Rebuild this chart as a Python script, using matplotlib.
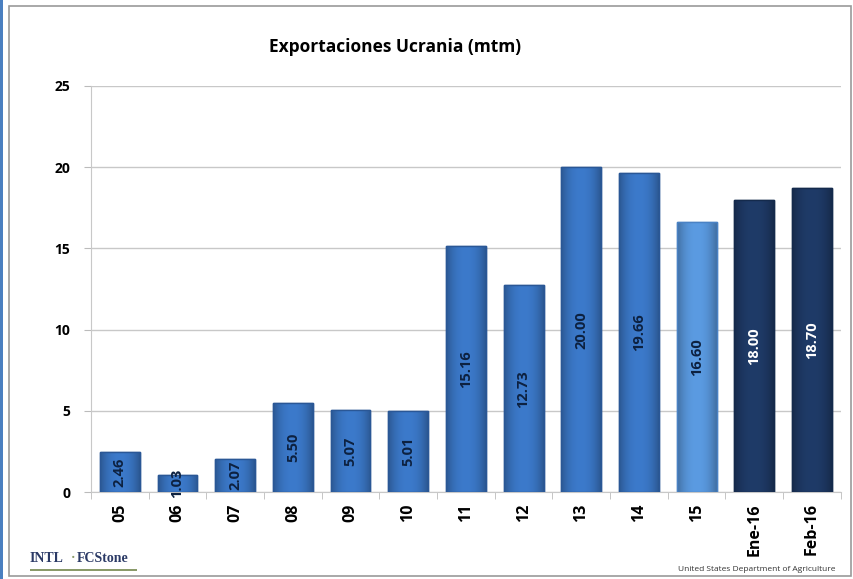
import matplotlib
matplotlib.use("Agg")
import matplotlib.pyplot as plt
from matplotlib.patches import Rectangle
from matplotlib.colors import to_rgb
import numpy as np

categories = ["05", "06", "07", "08", "09", "10", "11", "12", "13", "14", "15", "Ene-16", "Feb-16"]
values = [2.46, 1.03, 2.07, 5.50, 5.07, 5.01, 15.16, 12.73, 20.00, 19.66, 16.60, 18.00, 18.70]
bar_colors = ["#3c7acb"] * 10 + ["#5b9be2", "#1f3b68", "#1f3b68"]
edge_colors = ["#2a5796"] * 10 + ["#4a82c4", "#142a4c", "#142a4c"]
label_colors = ["#0d2140"] * 11 + ["white", "white"]
yticks = [0, 5, 10, 15, 20, 25]

plt.rcParams['font.family'] = ['Open Sans', 'DejaVu Sans']

fig = plt.figure(figsize=(8.54, 5.79), dpi=100)
fig.patch.set_facecolor("white")

# frame
fig.add_artist(Rectangle((0.0, 0.0), 0.004, 1.0, transform=fig.transFigure, color="#4a7fc0", lw=0))
fig.add_artist(Rectangle((0.011, 0.006), 0.986, 0.983, transform=fig.transFigure,
                         fill=False, edgecolor="#9a9a9a", lw=1.2))

ax = fig.add_axes([0.1066, 0.150, 0.878, 0.7015])
x = list(range(len(categories)))
bars = ax.bar(x, values, width=0.69, color=bar_colors, edgecolor=edge_colors, linewidth=1.0, zorder=3)

# horizontal gradient shading inside each bar
prof = np.linspace(-1, 1, 64)
shade = 1.0 - 0.28 * np.abs(prof) ** 2.2
for b, c in zip(bars, bar_colors):
    rgb = np.array(to_rgb(c))
    img = np.clip(shade[None, :, None] * rgb[None, None, :], 0, 1)
    x0, w, h = b.get_x(), b.get_width(), b.get_height()
    im = ax.imshow(img, extent=[x0, x0 + w, 0, h], aspect="auto", zorder=3.1,
                   interpolation="bilinear")
    im.set_clip_path(b)
    ax.add_patch(Rectangle((x0, 0), w, h, fill=False, edgecolor=b.get_edgecolor(),
                           lw=1.0, zorder=3.2))

for xi, v, lc in zip(x, values, label_colors):
    ax.text(xi, v / 2, f"{v:.2f}", rotation=90, ha="center", va="center",
            fontsize=10.5, fontweight="bold", color=lc, zorder=4)

ax.set_xlim(-0.5, len(categories) - 0.5)
ax.set_ylim(0, 25)
ax.set_yticks(yticks)
ax.set_yticklabels([str(t) for t in yticks], fontsize=10, fontweight="bold")
ax.set_xticks(x)
ax.set_xticklabels(categories, rotation=90, fontsize=11.5, fontweight="bold")
ax.tick_params(axis="x", length=0, pad=8)
ax.tick_params(axis="y", length=5, color="#bbbbbb", pad=10)
ax.set_xticks([i - 0.5 for i in range(len(categories) + 1)], minor=True)
ax.tick_params(axis="x", which="minor", length=5, color="#bbbbbb")

ax.grid(axis="y", color="#c8c8c8", linewidth=1.0, zorder=0)
for s in ["top", "right"]:
    ax.spines[s].set_visible(False)
ax.spines["left"].set_color("#c8c8c8")
ax.spines["bottom"].set_color("#c8c8c8")

fig.text(0.463, 0.918, "Exportaciones Ucrania (mtm)", ha="center", va="center",
         fontsize=12.5, fontweight="bold")

fig.text(0.035, 0.035, "INTL", ha="left", va="center", fontsize=10, fontweight="bold",
         color="#2b3a66", family=["Liberation Serif", "DejaVu Serif"])
fig.text(0.083, 0.035, "\u00b7", ha="left", va="center", fontsize=10, fontweight="bold",
         color="#8a9a6a", family=["Liberation Serif", "DejaVu Serif"])
fig.text(0.090, 0.035, "FCStone", ha="left", va="center", fontsize=10, fontweight="bold",
         color="#2b3a66", family=["Liberation Serif", "DejaVu Serif"])
fig.add_artist(Rectangle((0.035, 0.014), 0.125, 0.004, transform=fig.transFigure,
                         color="#8a9a6a", lw=0))

fig.text(0.978, 0.016, "United States Department of Agriculture", ha="right", va="center",
         fontsize=6, color="#333333")

fig.savefig("out.png", dpi=100)
